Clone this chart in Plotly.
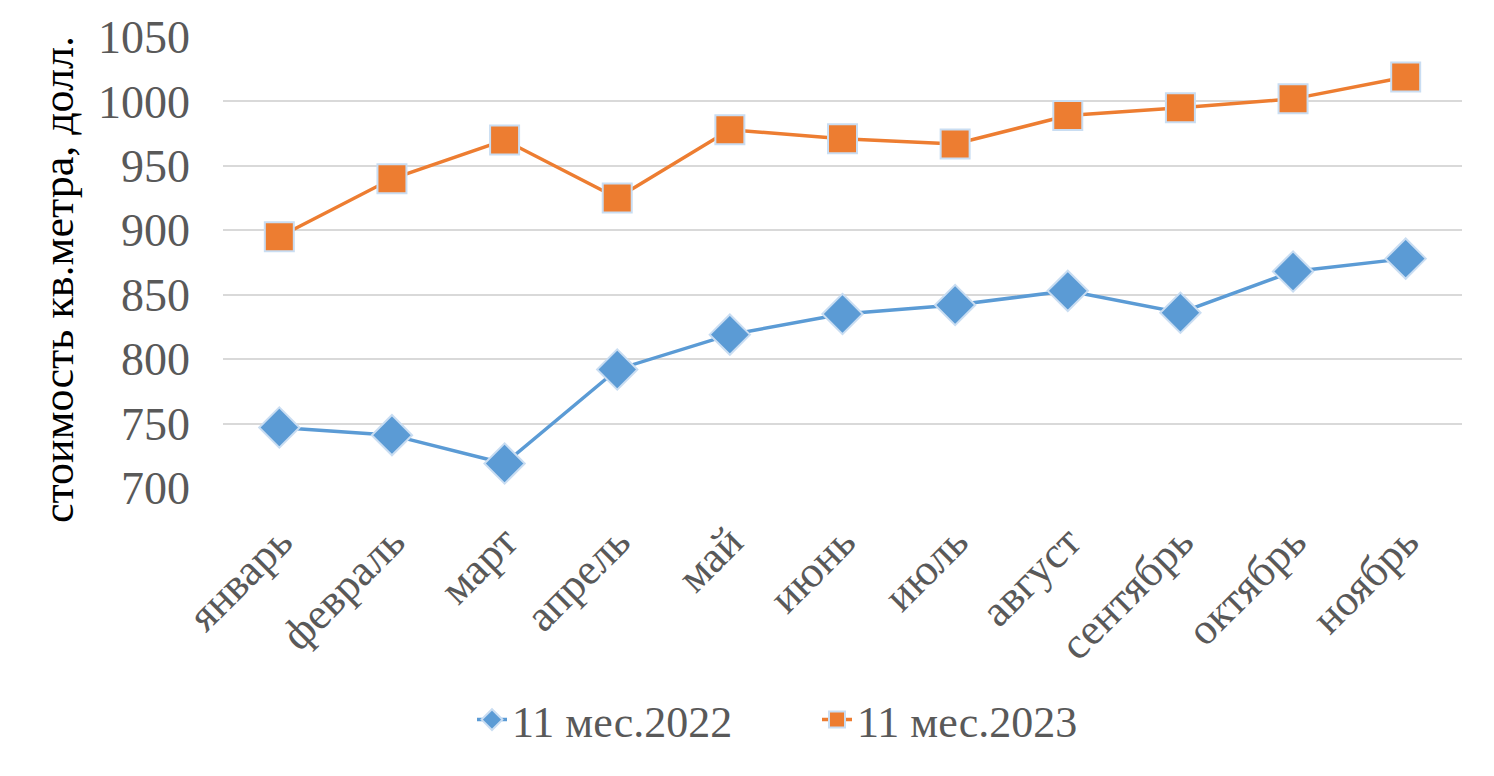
import plotly.graph_objects as go

months = ["январь", "февраль", "март", "апрель", "май", "июнь", "июль",
          "август", "сентябрь", "октябрь", "ноябрь"]
vals_2022 = [747, 741, 719, 792, 819, 835, 842, 853, 836, 868, 878]
vals_2023 = [895, 940, 970, 925, 978, 971, 967, 989, 995, 1002, 1019]
name_2022 = "11 мес.2022"
name_2023 = "11 мес.2023"
y_ticks = [700, 750, 800, 850, 900, 950, 1000, 1050]
y_title = "стоимость кв.метра, долл."

FONT = "Liberation Serif, Times New Roman, serif"
GRAY = "#595959"

fig = go.Figure()
fig.add_trace(go.Scatter(
    x=months, y=vals_2022, name=name_2022, mode="lines+markers",
    line=dict(color="#5B9BD5", width=3.5),
    marker=dict(symbol="diamond", size=31, color="#5B9BD5",
                line=dict(color="#C9DDF2", width=2)),
))
fig.add_trace(go.Scatter(
    x=months, y=vals_2023, name=name_2023, mode="lines+markers",
    line=dict(color="#ED7D31", width=3.5),
    marker=dict(symbol="square", size=29, color="#ED7D31",
                line=dict(color="#C9DDF2", width=2)),
))

fig.update_layout(
    width=1494, height=776,
    margin=dict(l=215, r=40, t=29, b=296, autoexpand=False),
    paper_bgcolor="white", plot_bgcolor="white",
    font=dict(family=FONT, size=44, color=GRAY),
    showlegend=True,
    legend=dict(orientation="h", xref="container", x=464 / 1494, xanchor="left",
                yref="container", y=64 / 776, yanchor="middle",
                font=dict(size=44, color=GRAY), entrywidth=300,
                traceorder="normal"),
    annotations=[dict(
        text=y_title, xref="paper", x=(50 - 215) / 1239, yref="paper", y=0.461,
        xanchor="center", yanchor="middle", textangle=-90, showarrow=False,
        font=dict(family=FONT, size=44, color="black"),
    )],
)
fig.update_xaxes(
    type="category", range=[-0.5, 10.5], tickangle=-45, automargin=False,
    showgrid=False, showline=False, zeroline=False, ticks="",
    tickfont=dict(size=44, color=GRAY), ticklabelstandoff=18,
)
fig.update_yaxes(
    range=[700, 1050], tickvals=y_ticks, showgrid=True, gridcolor="#D9D9D9",
    gridwidth=2, zeroline=False, showline=False, ticks="", automargin=False,
    tickfont=dict(size=46, color=GRAY), ticklabelstandoff=32,
)

fig.write_html("out.html")
